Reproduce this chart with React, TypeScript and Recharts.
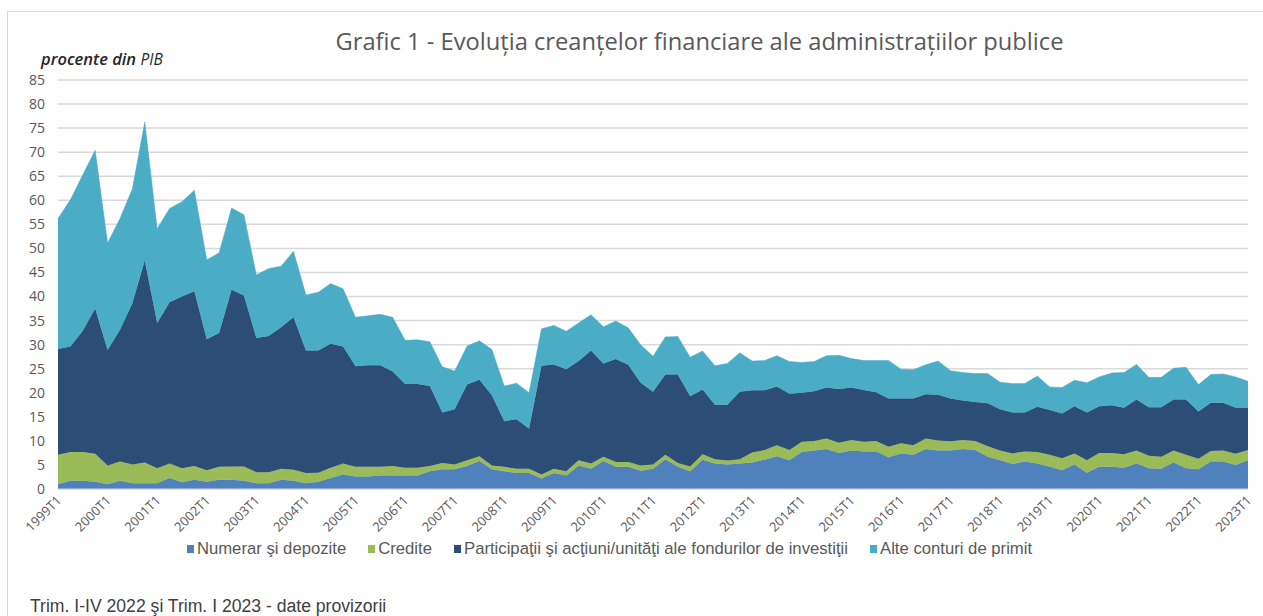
import { AreaChart, Area, XAxis, YAxis, CartesianGrid } from "recharts";

// quarters 1999T1 .. 2023T1
const QUARTERS: string[] = [];
for (let y = 1999; y <= 2023; y++) {
  for (let q = 1; q <= 4; q++) {
    if (y === 2023 && q > 1) break;
    QUARTERS.push(`${y}T${q}`);
  }
}

const NUMERAR = [
  1.0, 1.7, 1.7, 1.5, 1.0, 1.7, 1.2, 1.2, 1.2, 2.3, 1.4, 1.9, 1.5, 1.9, 1.9, 1.7,
  1.2, 1.2, 1.9, 1.7, 1.2, 1.5, 2.3, 3.0, 2.6, 2.6, 2.8, 2.8, 2.8, 2.8, 3.7, 4.1,
  4.1, 4.8, 5.8, 4.1, 3.7, 3.3, 3.3, 2.2, 3.3, 2.8, 4.9, 4.2, 5.8, 4.6, 4.6, 3.8,
  4.2, 6.2, 4.6, 3.7, 6.1, 5.3, 5.1, 5.3, 5.5, 6.1, 6.8, 6.0, 7.7, 8.0, 8.3, 7.5,
  8.0, 7.8, 7.8, 6.6, 7.4, 7.1, 8.3, 8.0, 8.0, 8.3, 8.1, 6.7, 6.0, 5.2, 5.7, 5.3,
  4.6, 3.9, 5.1, 3.4, 4.6, 4.6, 4.4, 5.3, 4.3, 4.2, 5.5, 4.3, 4.1, 5.7, 5.7, 5.0,
  6.0,
];

const CREDITE = [
  6.1, 6.0, 6.0, 5.8, 3.9, 4.0, 3.9, 4.3, 3.1, 3.0, 2.9, 2.9, 2.4, 2.7, 2.8, 3.0,
  2.3, 2.3, 2.3, 2.3, 2.1, 1.9, 2.1, 2.3, 2.0, 2.0, 1.8, 2.0, 1.6, 1.6, 1.1, 1.3,
  1.0, 1.2, 1.0, 0.8, 0.9, 0.9, 0.9, 0.8, 0.9, 0.9, 1.1, 1.1, 0.9, 1.0, 1.0, 1.1,
  0.9, 0.9, 0.8, 1.0, 1.1, 0.9, 0.8, 0.9, 2.1, 2.0, 2.3, 2.1, 2.1, 2.0, 2.2, 2.1,
  2.2, 2.0, 2.2, 2.2, 2.1, 2.0, 2.2, 2.1, 1.9, 1.9, 1.9, 2.2, 2.0, 2.2, 2.1, 2.4,
  2.5, 2.5, 2.3, 2.6, 2.9, 2.9, 2.8, 2.7, 2.6, 2.5, 2.5, 2.8, 2.2, 2.2, 2.3, 2.3,
  2.1,
];

const PARTICIPATII = [
  22.0, 21.9, 25.2, 30.2, 24.0, 27.4, 33.5, 42.0, 30.2, 33.5, 35.7, 36.3, 27.2, 27.8, 36.7, 35.5,
  27.9, 28.3, 29.4, 31.7, 25.5, 25.4, 25.8, 24.3, 20.9, 21.1, 21.1, 19.6, 17.4, 17.4, 16.6, 10.5,
  11.5, 15.7, 15.9, 14.6, 9.5, 10.3, 8.3, 22.6, 21.7, 21.2, 20.6, 23.5, 19.4, 21.4, 20.2, 17.2,
  15.1, 16.7, 18.4, 14.6, 13.5, 11.3, 11.6, 14.0, 12.9, 12.4, 12.2, 11.7, 10.2, 10.3, 10.6, 11.2,
  10.9, 10.8, 10.1, 10.0, 9.3, 9.7, 9.2, 9.5, 8.9, 8.2, 8.1, 8.9, 8.6, 8.5, 8.1, 9.4,
  9.3, 9.3, 9.8, 9.9, 9.7, 9.9, 9.7, 10.6, 10.1, 10.3, 10.6, 11.5, 9.8, 10.0, 9.9, 9.6,
  8.8,
];

const ALTE = [
  27.1, 30.5, 32.4, 32.9, 22.2, 23.1, 23.8, 28.8, 19.6, 19.5, 19.7, 21.0, 16.5, 16.7, 17.0, 16.8,
  13.1, 14.0, 12.7, 13.7, 11.5, 12.1, 12.5, 12.0, 10.2, 10.3, 10.6, 11.3, 9.1, 9.2, 9.2, 9.5,
  7.9, 8.0, 8.1, 9.5, 7.3, 7.5, 7.5, 7.7, 8.1, 7.9, 7.9, 7.4, 7.6, 7.9, 7.7, 7.9,
  7.4, 7.8, 7.9, 8.1, 8.0, 8.1, 8.6, 8.1, 6.1, 6.2, 6.4, 6.7, 6.3, 6.2, 6.6, 7.0,
  6.0, 6.1, 6.6, 7.9, 6.1, 6.0, 6.1, 7.0, 5.8, 5.8, 5.9, 6.2, 5.6, 6.0, 6.0, 6.4,
  4.8, 5.4, 5.4, 6.2, 6.1, 6.7, 7.3, 7.3, 6.2, 6.2, 6.5, 6.7, 5.6, 5.9, 6.0, 6.4,
  5.5,
];

const Y_TICKS = [0, 5, 10, 15, 20, 25, 30, 35, 40, 45, 50, 55, 60, 65, 70, 75, 80, 85];
const X_TICKS = QUARTERS.filter((q) => q.endsWith("T1"));

const SERIES = [
  { key: "numerar", name: "Numerar şi depozite", color: "#4f81bd", values: NUMERAR },
  { key: "credite", name: "Credite", color: "#9bbb59", values: CREDITE },
  { key: "particip", name: "Participaţii şi acţiuni/unităţi ale fondurilor de investiţii", color: "#2c4d75", values: PARTICIPATII },
  { key: "alte", name: "Alte conturi de primit", color: "#4bacc6", values: ALTE },
];

const data = QUARTERS.map((q, i) => {
  const row: Record<string, string | number> = { q };
  for (const s of SERIES) row[s.key] = s.values[i];
  return row;
});

const TEXT = "#595959";
const FONT = "'Open Sans', sans-serif";
const NARROW = "'Liberation Sans Narrow', 'Liberation Sans', sans-serif";

function XTick({ x, y, payload }: any) {
  return (
    <text
      x={x}
      y={y}
      dy={6}
      textAnchor="end"
      transform={`rotate(-45, ${x}, ${y})`}
      fill={TEXT}
      fontSize={13}
      fontFamily={FONT}
    >
      {payload.value}
    </text>
  );
}

export default function App() {
  return (
    <div
      style={{
        position: "fixed",
        left: 0,
        top: 0,
        width: 1263,
        height: 616,
        background: "#fff",
        overflow: "hidden",
      }}
    >
      <div
        style={{
          position: "absolute",
          left: 7,
          top: 11,
          width: 1300,
          height: 700,
          border: "1px solid #d9d9d9",
        }}
      />
      <div
        style={{
          position: "absolute",
          left: 0,
          width: 1263,
          top: 25,
          paddingLeft: 136,
          textAlign: "center",
          fontFamily: FONT,
          fontSize: 23.7,
          color: TEXT,
          boxSizing: "border-box",
          whiteSpace: "nowrap",
        }}
      >
        Grafic 1 - Evoluția creanțelor financiare ale administrațiilor publice
      </div>
      <div
        style={{
          position: "absolute",
          left: 41,
          top: 47,
          fontFamily: FONT,
          fontStyle: "italic",
          fontWeight: 600,
          fontSize: 16.5,
          color: "#262626",
        }}
      >
        procente din <span style={{ fontWeight: 400, fontSize: 15.5 }}>PIB</span>
      </div>

      <div style={{ position: "absolute", left: 0, top: 0 }}>
        <AreaChart
          width={1263}
          height={616}
          data={data}
          margin={{ top: 80, right: 15, left: 0, bottom: 67 }}
        >
          <CartesianGrid vertical={false} stroke="#d9d9d9" strokeWidth={1.5} />
          <XAxis
            dataKey="q"
            ticks={X_TICKS}
            interval={0}
            tick={<XTick />}
            tickLine={false}
            axisLine={{ stroke: "#d9d9d9" }}
            height={60}
          />
          <YAxis
            domain={[0, 85]}
            ticks={Y_TICKS}
            interval={0}
            width={58}
            tickLine={false}
            axisLine={false}
            tickMargin={7}
            tick={{ fill: TEXT, fontSize: 14, fontFamily: FONT }}
          />
          {SERIES.map((s) => (
            <Area
              key={s.key}
              type="linear"
              dataKey={s.key}
              name={s.name}
              stackId="1"
              stroke={s.color}
              strokeWidth={0.5}
              fill={s.color}
              fillOpacity={1}
              isAnimationActive={false}
            />
          ))}
        </AreaChart>
      </div>

      <div
        style={{
          position: "absolute",
          left: 0,
          width: 1263,
          top: 539,
          display: "flex",
          justifyContent: "center",
          gap: 22,
          fontFamily: NARROW,
          fontSize: 16.7,
          color: TEXT,
          marginLeft: -22,
          whiteSpace: "nowrap",
        }}
      >
        {SERIES.map((s) => (
          <div key={s.key} style={{ display: "flex", alignItems: "center" }}>
            <span
              style={{
                display: "inline-block",
                width: 7,
                height: 8,
                background: s.color,
                marginRight: 3,
              }}
            />
            {s.name}
          </div>
        ))}
      </div>

      <div
        style={{
          position: "absolute",
          left: 30,
          top: 596,
          fontFamily: NARROW,
          fontSize: 17.6,
          color: "#404040",
          whiteSpace: "nowrap",
        }}
      >
        Trim. I-IV 2022 şi Trim. I 2023 - date provizorii
      </div>
    </div>
  );
}
